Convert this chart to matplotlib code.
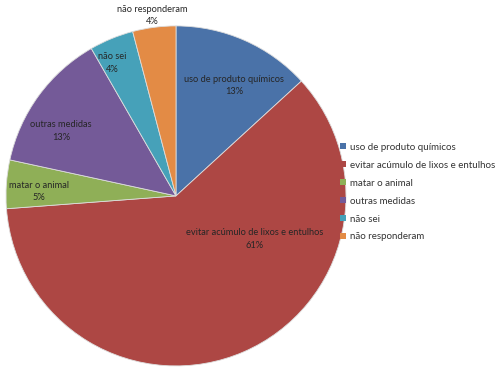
import matplotlib
matplotlib.use('Agg')
import matplotlib.pyplot as plt
from matplotlib.patches import Patch

# data (share of answers, %)
categorias = ['uso de produto químicos', 'evitar acúmulo de lixos e entulhos',
              'matar o animal', 'outras medidas', 'não sei', 'não responderam']
valores = [13.2, 60.6, 4.6, 13.3, 4.2, 4.1]

cores = ['#4A72A8', '#AD4744', '#8FAF57', '#745A98', '#46A1B9', '#E38B45']
# label anchor points (relative to pie radius), placed like Excel's best fit
pos_rotulos = [(0.34, 0.65), (0.465, -0.253), (-0.806, 0.024),
               (-0.676, 0.382), (-0.376, 0.782), (-0.141, 1.06)]

plt.rcParams['font.family'] = ['Lato', 'DejaVu Sans']

fig = plt.figure(figsize=(5, 3.73), dpi=100)
ax = fig.add_axes([0.012, 0.019, 0.68, 0.9115])
ax.pie(valores, colors=cores, startangle=90, counterclock=False,
       wedgeprops=dict(edgecolor='#dddddd', linewidth=0.6))
ax.set_xlim(-1, 1)
ax.set_ylim(-1, 1)
ax.set_aspect('equal')
ax.axis('off')

for cat, v, (x, y) in zip(categorias, valores, pos_rotulos):
    ax.text(x, y, f'{cat}\n{v:.0f}%', ha='center', va='center',
            fontsize=6.7, color='#262626', linespacing=1.45, clip_on=False)

handles = [Patch(facecolor=c, edgecolor='none') for c in cores]
fig.legend(handles, categorias, loc='center left', bbox_to_anchor=(0.662, 0.485),
           frameon=False, fontsize=7, handlelength=0.6, handleheight=0.6,
           handletextpad=0.5, labelspacing=0.92, labelcolor='#333333')

fig.savefig('out.png', dpi=100)
